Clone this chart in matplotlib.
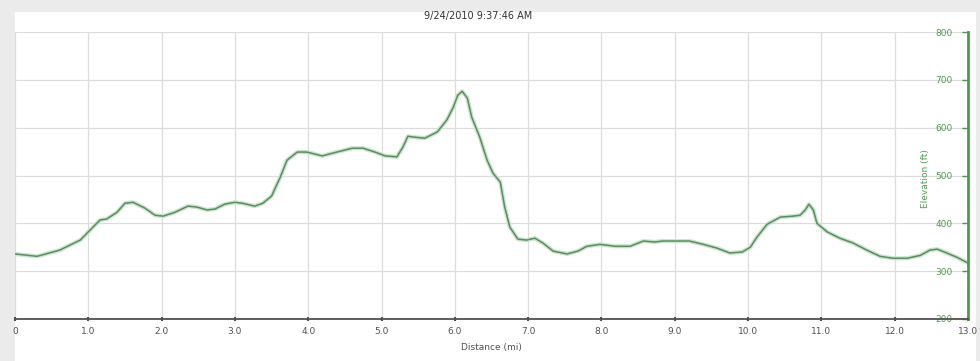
import numpy as np
import matplotlib.pyplot as plt
from matplotlib.patches import Rectangle

# elevation profile (miles, feet)
distance = [0.0, 0.3, 0.61, 0.89, 1.16, 1.25, 1.39, 1.5, 1.61, 1.77, 1.91, 2.02, 2.18,
            2.36, 2.48, 2.62, 2.73, 2.86, 3.0, 3.1, 3.27, 3.38, 3.5, 3.62, 3.71, 3.85,
            3.98, 4.19, 4.39, 4.6, 4.75, 4.91, 5.05, 5.21, 5.29, 5.36, 5.46, 5.59, 5.76,
            5.89, 5.98, 6.04, 6.1, 6.17, 6.23, 6.34, 6.44, 6.52, 6.62, 6.68, 6.75, 6.86,
            6.98, 7.09, 7.2, 7.34, 7.53, 7.68, 7.8, 7.98, 8.19, 8.39, 8.57, 8.73, 8.83,
            8.98, 9.2, 9.39, 9.58, 9.75, 9.92, 10.03, 10.12, 10.26, 10.44, 10.61, 10.71,
            10.78, 10.83, 10.89, 10.94, 11.08, 11.25, 11.43, 11.62, 11.8, 11.98, 12.17,
            12.35, 12.48, 12.58, 12.71, 12.85, 13.0]
elevation = [336, 331, 344, 365, 407, 409, 423, 442, 444, 432, 417, 415, 423,
             436, 434, 428, 430, 440, 444, 442, 436, 442, 457, 497, 532, 549,
             549, 541, 549, 557, 557, 549, 541, 539, 559, 582, 580, 578, 591,
             616, 643, 668, 676, 662, 622, 580, 532, 505, 486, 434, 392, 367,
             365, 369, 359, 342, 336, 342, 352, 356, 352, 352, 363, 361, 363,
             363, 363, 356, 348, 338, 340, 350, 371, 398, 413, 415, 417,
             428, 440, 428, 400, 382, 369, 359, 344, 331, 327, 327,
             333, 344, 346, 338, 329, 317]

x_ticks = np.arange(0, 14, 1)
x_labels = ["0"] + [f"{v:.1f}" for v in x_ticks[1:]]
y_ticks = np.arange(200, 900, 100)

green = '#4f9a4f'
W, H = 980, 361

fig = plt.figure(figsize=(9.8, 3.61), dpi=100)
fig.patch.set_facecolor('#ebebeb')
panel = Rectangle((15 / W, 0), (976 - 15) / W, (H - 12) / H,
                  transform=fig.transFigure, facecolor='white',
                  edgecolor='none', zorder=-10)
fig.patches.append(panel)

ax = fig.add_axes([15 / W, (H - 319) / H, (968 - 15) / W, (319 - 32) / H])
ax.set_facecolor('white')
ax.plot(distance, elevation, color='#c8e6c8', linewidth=3.0, zorder=2)
ax.plot(distance, elevation, color='#5e8a66', linewidth=1.1, zorder=3)

ax.set_xlim(0, 13)
ax.set_ylim(200, 800)
ax.set_xticks(x_ticks)
ax.set_xticklabels(x_labels)
ax.set_yticks(y_ticks)
ax.grid(color='#dcdcdc', linewidth=0.9)
ax.set_axisbelow(True)

for s in ['top', 'left']:
    ax.spines[s].set_visible(False)
ax.spines['bottom'].set_color('#505050')
ax.spines['bottom'].set_linewidth(1.3)
ax.spines['right'].set_color(green)
ax.spines['right'].set_linewidth(2)

ax.tick_params(axis='x', colors='#505050', labelsize=6.5, length=3, width=1.5,
               direction='inout', pad=4)
ax.yaxis.tick_right()
ax.tick_params(axis='y', colors=green, labelsize=6.5, length=4, width=1,
               direction='in', pad=-11)
for lbl in ax.get_yticklabels():
    lbl.set_horizontalalignment('right')

ax.text(0.955, 0.49, 'Elevation (ft)', transform=ax.transAxes, rotation=90,
        ha='center', va='center', color=green, fontsize=6.5)
ax.set_xlabel('Distance (mi)', fontsize=6.5, color='#505050', labelpad=5)
fig.text(478 / W, 1 - 16 / H, '9/24/2010 9:37:46 AM', ha='center', va='center',
         fontsize=7, color='#333333')

fig.savefig('out.png', dpi=100, facecolor=fig.get_facecolor())
